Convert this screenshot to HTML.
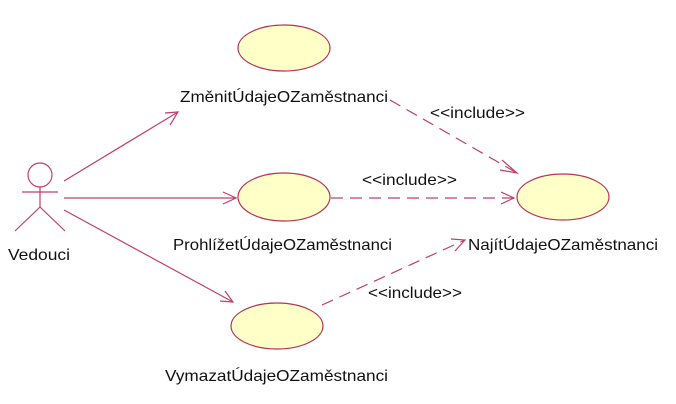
<!DOCTYPE html>
<html><head><meta charset="utf-8"><style>
html,body{margin:0;padding:0;background:#fff;width:676px;height:404px;overflow:hidden}
svg text{font-family:"Liberation Sans",sans-serif;font-size:16px;fill:#111}
</style></head><body>
<svg width="676" height="404" viewBox="0 0 676 404" xmlns="http://www.w3.org/2000/svg">
<g fill="#ffffc8" stroke="#b8325a" stroke-width="1.2">
<ellipse cx="284" cy="48" rx="46" ry="23"/>
<ellipse cx="284" cy="197" rx="46" ry="24"/>
<ellipse cx="277" cy="326" rx="46" ry="23"/>
<ellipse cx="563" cy="197" rx="46" ry="23"/>
</g>
<g fill="none" stroke="#c0406a" stroke-width="1.2">
<circle cx="40" cy="175" r="12"/>
<line x1="22" y1="192" x2="58" y2="192"/>
<line x1="40" y1="187" x2="40" y2="207"/>
<line x1="40" y1="207" x2="15" y2="231"/>
<line x1="40" y1="207" x2="65" y2="231"/>
<line x1="64" y1="181" x2="178" y2="112"/>
<polyline points="165,113 178,112 170,125"/>
<line x1="64" y1="198" x2="236" y2="198"/>
<polyline points="223,192 236,198 223,204"/>
<line x1="64" y1="210" x2="233" y2="302"/>
<polyline points="225,291 233,302 220,301"/>
<g stroke-dasharray="12,7">
<line x1="390" y1="100" x2="517" y2="173"/>
<line x1="331" y1="198" x2="514" y2="198"/>
<line x1="322" y1="305" x2="465" y2="240"/>
</g>
<polyline points="502,160 517,173 500,170"/>
<polyline points="501,192 514,198 501,204"/>
<polyline points="451,239 465,240 455,251"/>
</g>
<text x="180" y="102" textLength="208" lengthAdjust="spacingAndGlyphs">ZměnitÚdajeOZaměstnanci</text>
<text x="173" y="250" textLength="219" lengthAdjust="spacingAndGlyphs">ProhlížetÚdajeOZaměstnanci</text>
<text x="165" y="381" textLength="223" lengthAdjust="spacingAndGlyphs">VymazatÚdajeOZaměstnanci</text>
<text x="468" y="250" textLength="190" lengthAdjust="spacingAndGlyphs">NajítÚdajeOZaměstnanci</text>
<text x="8" y="260" textLength="62" lengthAdjust="spacingAndGlyphs">Vedouci</text>
<text x="430" y="118" textLength="95" lengthAdjust="spacingAndGlyphs">&lt;&lt;include&gt;&gt;</text>
<text x="362" y="185" textLength="95" lengthAdjust="spacingAndGlyphs">&lt;&lt;include&gt;&gt;</text>
<text x="368" y="298" textLength="94" lengthAdjust="spacingAndGlyphs">&lt;&lt;include&gt;&gt;</text>
</svg>
</body></html>
